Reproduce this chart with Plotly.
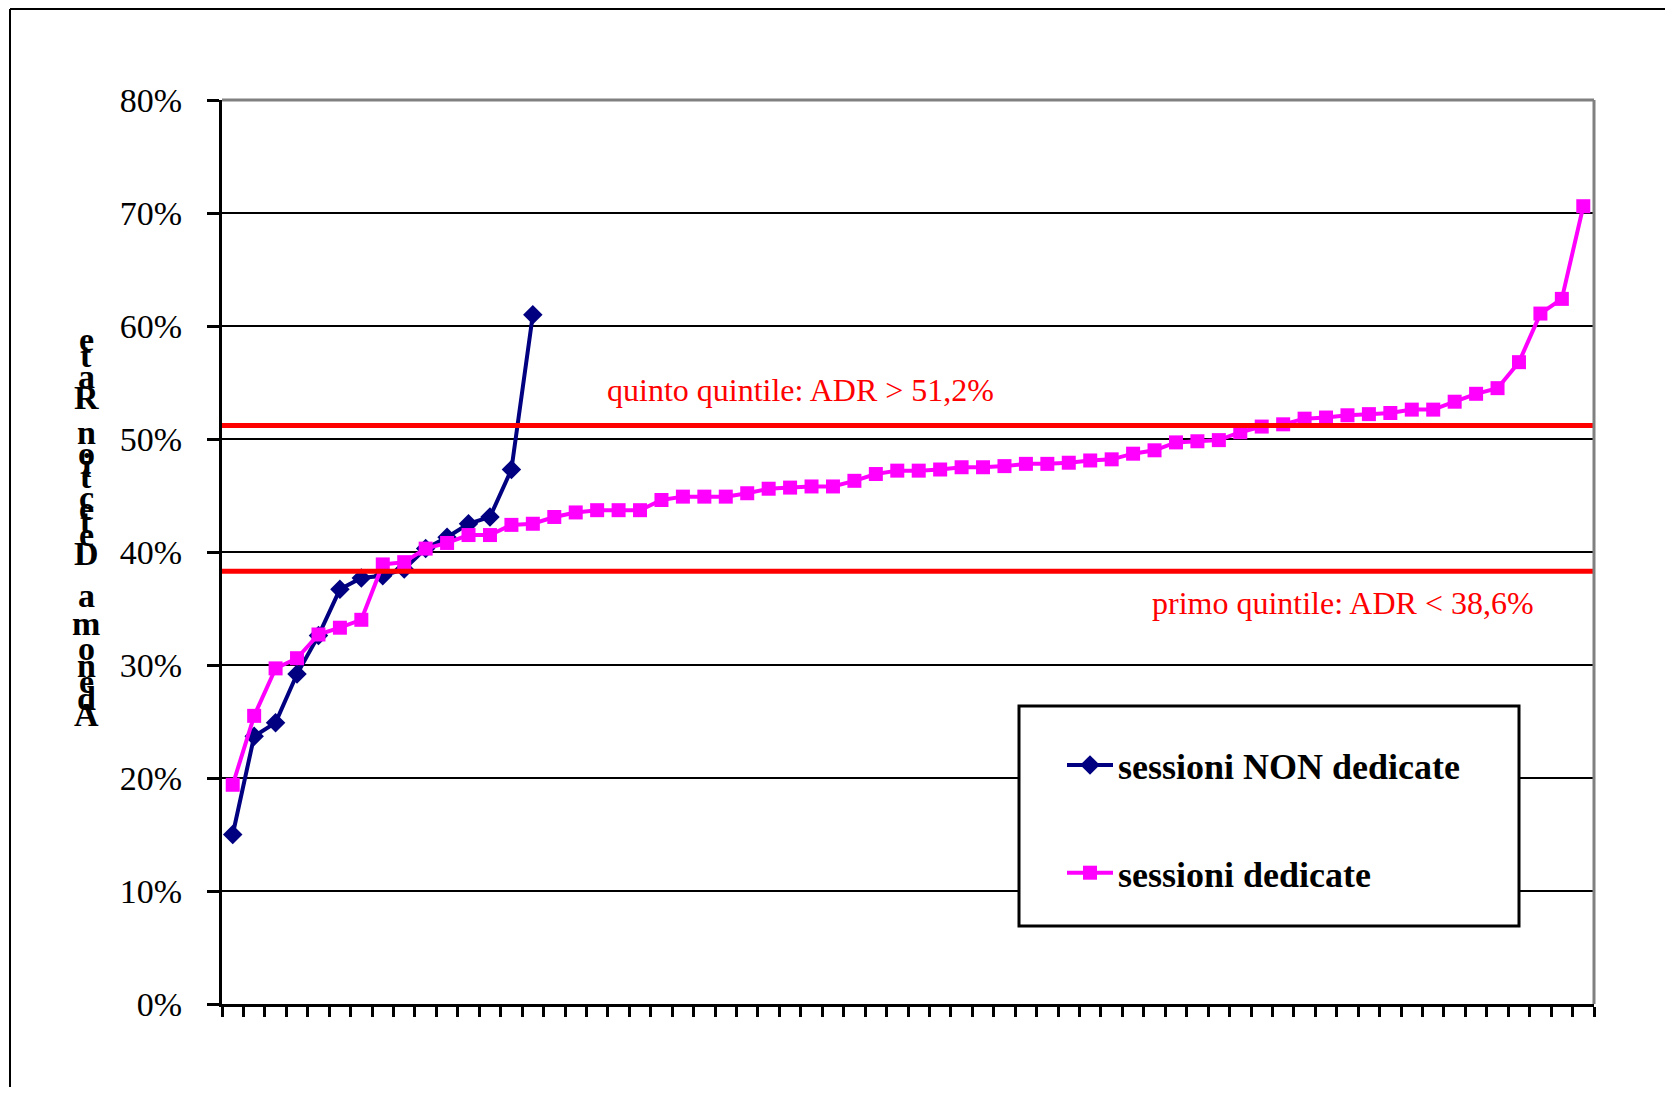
import plotly.graph_objects as go
import numpy as np

# ---- data (values in %) ----
non_dedicate = [15.0, 23.7, 24.9, 29.2, 32.6, 36.7, 37.7, 37.9, 38.5, 40.3,
                41.3, 42.5, 43.1, 47.3, 61.0]
dedicate = [19.4, 25.5, 29.7, 30.6, 32.7, 33.3, 34.0, 38.9, 39.1, 40.3,
            40.8, 41.5, 41.5, 42.4, 42.5, 43.1, 43.5, 43.7, 43.7, 43.7,
            44.6, 44.9, 44.9, 44.9, 45.2, 45.6, 45.7, 45.8, 45.8, 46.3,
            46.9, 47.2, 47.2, 47.3, 47.5, 47.5, 47.6, 47.8, 47.8, 47.9,
            48.1, 48.2, 48.7, 49.0, 49.7, 49.8, 49.9, 50.6, 51.1, 51.3,
            51.8, 51.9, 52.1, 52.2, 52.3, 52.6, 52.6, 53.3, 54.0, 54.5,
            56.8, 61.1, 62.4, 70.6]
series_names = ["sessioni NON dedicate", "sessioni dedicate"]
quintile_values = [51.2, 38.3]
quintile_labels = ["quinto quintile: ADR > 51,2%", "primo quintile: ADR < 38,6%"]
y_title = "Adenoma Detection Rate"
y_ticks = [0, 10, 20, 30, 40, 50, 60, 70, 80]

n_cat = len(dedicate)
SERIF = "Liberation Serif, Times New Roman, serif"

# page body has an 8px margin; figure sized so no scrollbars appear
OFF = 8
W, H = 1673 - 2 * OFF, 1095 - 2 * OFF
ML, MT = 222 - OFF, 100 - OFF
PW, PH = 1372, 904
MR = W - ML - PW
MB = H - MT - PH


def px2x(px):
    """screen pixel x -> paper x"""
    return (px - OFF - ML) / PW


def px2y(py):
    """screen pixel y -> paper y"""
    return (MT + PH - (py - OFF)) / PH


fig = go.Figure()
fig.add_trace(go.Scatter(
    x=list(range(len(non_dedicate))), y=non_dedicate, name=series_names[0],
    mode="lines+markers", legendgroup="a",
    line=dict(color="#000080", width=4),
    marker=dict(symbol="diamond", size=15, color="#000080"),
))
fig.add_trace(go.Scatter(
    x=list(range(n_cat)), y=dedicate, name=series_names[1],
    mode="lines+markers", legendgroup="b",
    line=dict(color="#FF00FF", width=4),
    marker=dict(symbol="square", size=14, color="#FF00FF"),
))

shapes = []
for v in quintile_values:
    shapes.append(dict(type="line", xref="paper", yref="y", x0=0, x1=1, y0=v, y1=v,
                       line=dict(color="#FF0000", width=5), layer="above"))
shapes.append(dict(type="line", xref="paper", yref="paper", x0=0, x1=1, y0=1, y1=1,
                   line=dict(color="#808080", width=3), layer="above"))
shapes.append(dict(type="line", xref="paper", yref="paper", x0=1, x1=1, y0=0, y1=1,
                   line=dict(color="#808080", width=3), layer="above"))
# legend box
shapes.append(dict(type="rect", xref="paper", yref="paper",
                   x0=px2x(1019), x1=px2x(1519), y0=px2y(926), y1=px2y(706),
                   line=dict(color="black", width=3), fillcolor="white", layer="above"))
# outer chart border (top and left edges visible)
shapes.append(dict(type="line", xref="paper", yref="paper",
                   x0=px2x(10), x1=px2x(1700), y0=px2y(9), y1=px2y(9),
                   line=dict(color="black", width=2), layer="above"))
shapes.append(dict(type="line", xref="paper", yref="paper",
                   x0=px2x(10), x1=px2x(10), y0=px2y(9), y1=px2y(1120),
                   line=dict(color="black", width=2), layer="above"))

annotations = []
label_pos = [(800, 390), (1343, 603)]
for txt, (cx, cy) in zip(quintile_labels, label_pos):
    annotations.append(dict(text=txt, xref="paper", yref="paper", x=px2x(cx), y=px2y(cy),
                            xanchor="center", yanchor="middle", showarrow=False,
                            font=dict(family=SERIF, size=32, color="#FF0000")))

# stacked upright characters of the y-axis title, bottom to top
title_char_y = [715, 698, 681, 665, 648, 623, 595, 575, 553, 534, 521, 508, 497,
                476, 465, 453, 432, 415, 397, 377, 355, 339]
for ch, py in zip(y_title, title_char_y):
    if ch == " ":
        continue
    annotations.append(dict(text=ch, xref="paper", yref="paper", x=px2x(86), y=px2y(py),
                            xanchor="center", yanchor="middle", showarrow=False,
                            font=dict(family=SERIF, size=34, color="black", weight="bold")))

fig.update_layout(
    width=W, height=H, autosize=False,
    margin=dict(l=ML, r=MR, t=MT, b=MB, pad=0),
    paper_bgcolor="white", plot_bgcolor="white",
    showlegend=True,
    legend=dict(x=px2x(1062), y=px2y(735), xanchor="left", yanchor="top",
                bgcolor="rgba(0,0,0,0)", borderwidth=0,
                font=dict(family=SERIF, size=36, color="black", weight="bold"),
                tracegroupgap=58, itemwidth=46, traceorder="grouped"),
    xaxis=dict(range=[-0.5, n_cat - 0.5], showgrid=False, zeroline=False,
               showline=True, linecolor="black", linewidth=3,
               tickmode="array", tickvals=list(np.arange(-0.5, n_cat, 1.0)),
               ticks="outside", ticklen=10, tickwidth=2.5, tickcolor="black",
               showticklabels=False),
    yaxis=dict(range=[0, 80], tickmode="array", tickvals=y_ticks,
               ticktext=[f"{t}%" for t in y_ticks],
               showgrid=True, gridcolor="black", gridwidth=2, zeroline=False,
               showline=True, linecolor="black", linewidth=3,
               ticks="outside", ticklen=12, tickwidth=2.5, tickcolor="black",
               ticklabelstandoff=18,
               tickfont=dict(family=SERIF, size=34, color="black")),
    shapes=shapes, annotations=annotations,
)

fig.write_html("out.html")
